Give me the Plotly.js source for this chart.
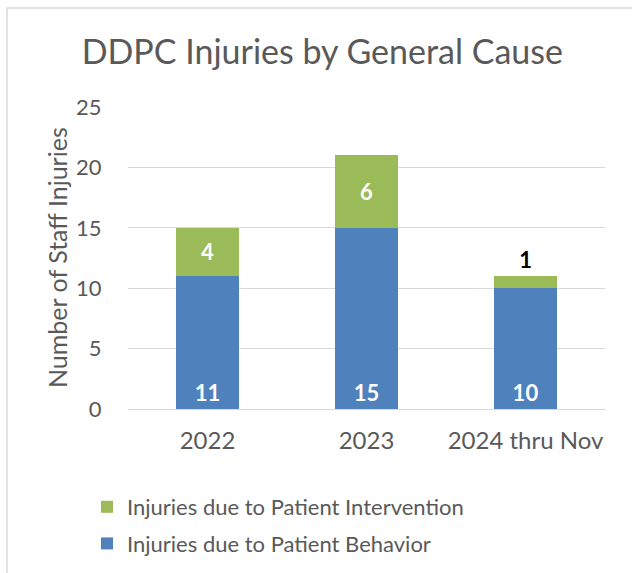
<!DOCTYPE html>
<html>
<head>
<meta charset="utf-8">
<script src="https://cdn.plot.ly/plotly-3.0.1.min.js"></script>
<style>html,body{margin:0;padding:0;background:#fff;}#chart{width:632px;height:573px;}</style>
</head>
<body>
<div id="chart"></div>
<script>
const categories = ["2022", "2023", "2024 thru Nov"];
const behaviorValues = [11, 15, 10];
const interventionValues = [4, 6, 1];
const behaviorName = "Injuries due to Patient Behavior";
const interventionName = "Injuries due to Patient Intervention";
const yTicks = [0, 5, 10, 15, 20, 25];
const yAxisTitle = "Number of Staff Injuries";

const FONT = "Lato, 'Open Sans', sans-serif";
const TXT = "#595959";

const traces = [
  {
    type: "bar", name: behaviorName, x: categories, y: behaviorValues,
    marker: {color: "#4f81bd"},
    text: behaviorValues.map(String), textposition: "inside", insidetextanchor: "start",
    textfont: {family: FONT, size: 22, color: "#ffffff", weight: "bold"},
    legendgroup: "b", legendrank: 2, hoverinfo: "x+y+name"
  },
  {
    type: "bar", name: interventionName, x: categories, y: interventionValues,
    marker: {color: "#9bbb59"},
    text: interventionValues.map(String),
    textposition: interventionValues.map(v => v < 2 ? "outside" : "inside"),
    insidetextanchor: "middle",
    textfont: {family: FONT, size: 22, color: interventionValues.map(v => v < 2 ? "#000000" : "#ffffff"), weight: "bold"},
    legendgroup: "i", legendrank: 1, hoverinfo: "x+y+name", cliponaxis: false
  }
];

const layout = {
  width: 632, height: 573,
  margin: {l: 128, r: 27, t: 107, b: 164, autoexpand: false},
  paper_bgcolor: "#ffffff", plot_bgcolor: "#ffffff",
  font: {family: FONT, color: TXT},
  barmode: "stack", bargap: 0.6,
  title: {text: "DDPC Injuries by General Cause", font: {family: FONT, size: 34, color: TXT},
          x: 0.51, xanchor: "center", y: 1 - 52/573, yanchor: "middle", yref: "container", xref: "container"},
  xaxis: {type: "category", tickfont: {size: 24, color: TXT}, showgrid: false, zeroline: false,
          showline: true, linecolor: "#d9d9d9", linewidth: 1,
          ticks: "outside", ticklen: 10, tickcolor: "rgba(0,0,0,0)",
          tickangle: 0, automargin: false},
  yaxis: {range: [0, 25], tickvals: yTicks, ticktext: yTicks.map(String),
          tickfont: {size: 22, color: TXT}, showgrid: true, gridcolor: "#d9d9d9", gridwidth: 1,
          zeroline: false, showline: false,
          ticks: "outside", ticklen: 21, tickcolor: "rgba(0,0,0,0)", automargin: false},
  annotations: [{text: yAxisTitle, xref: "paper", yref: "paper", x: (57 - 128) / 477, y: 0.5,
                 xanchor: "center", yanchor: "middle", textangle: -90, showarrow: false,
                 font: {family: FONT, size: 25, color: TXT}}],
  showlegend: true,
  legend: {orientation: "v", traceorder: "grouped", tracegroupgap: 5,
           xref: "container", yref: "container", x: 87/632, y: 1 - 486/573, xanchor: "left", yanchor: "top",
           font: {family: FONT, size: 22, color: TXT}, bgcolor: "rgba(0,0,0,0)"},
  shapes: [{type: "rect", xref: "paper", yref: "paper",
            x0: (7 - 128) / 477, x1: 3, y0: -3, y1: (409 - 8) / 302,
            line: {color: "#d9d9d9", width: 1.5}, fillcolor: "rgba(0,0,0,0)", layer: "below"}]
};

Plotly.newPlot("chart", traces, layout, {displayModeBar: false, staticPlot: true});
</script>
</body>
</html>
